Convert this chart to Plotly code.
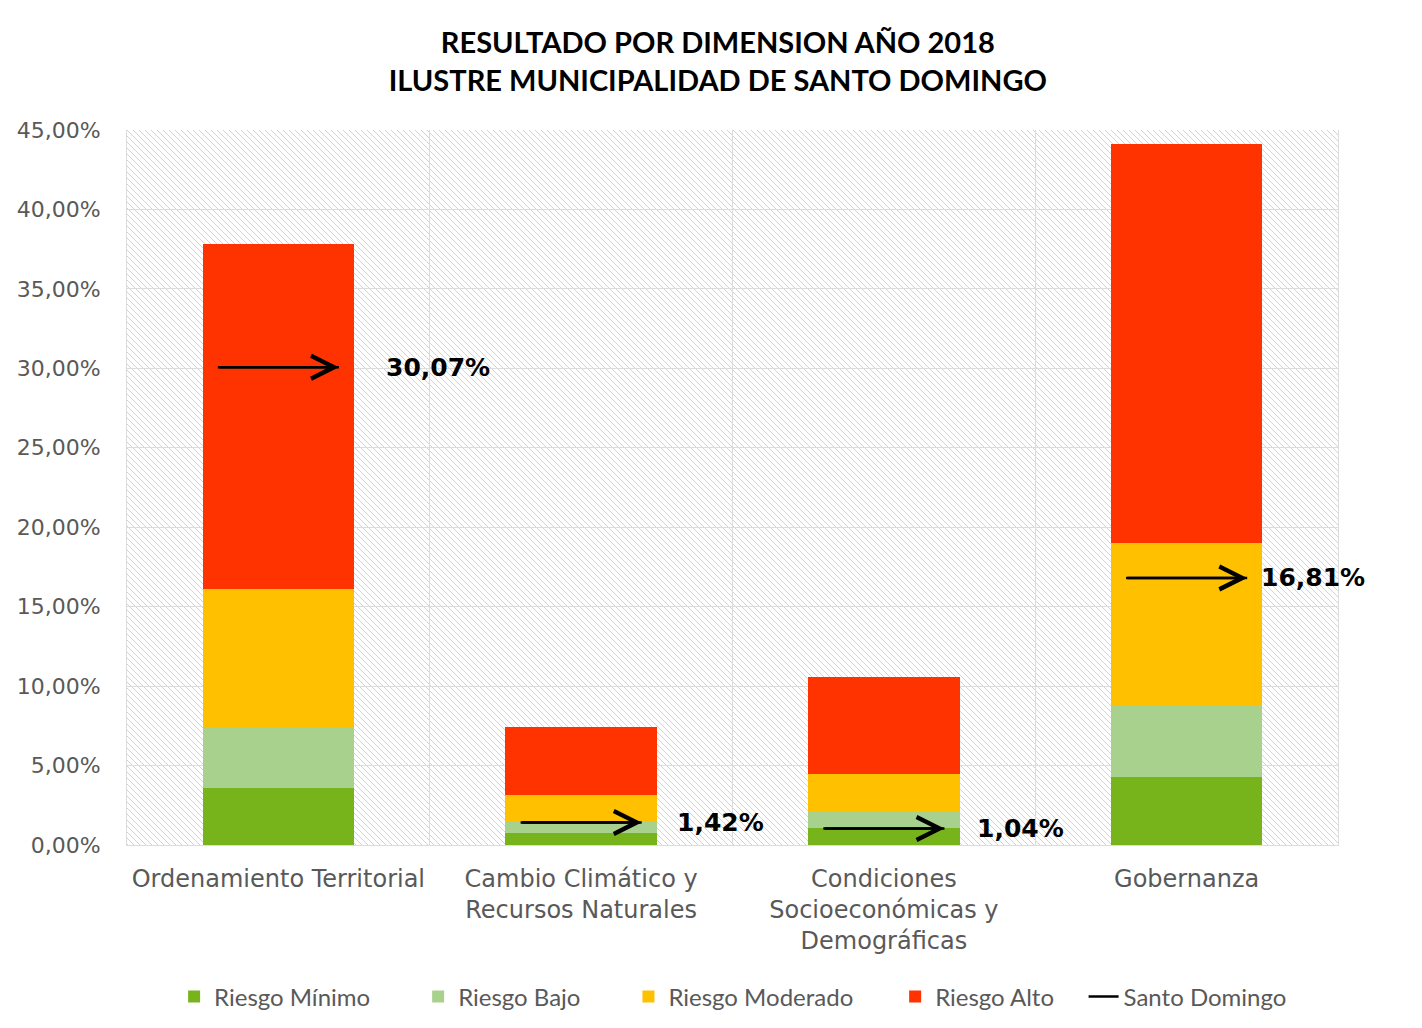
import plotly.graph_objects as go
import base64

# ---------------- data ----------------
categories = [
    "Ordenamiento Territorial",
    "Cambio Climático y<br>Recursos Naturales",
    "Condiciones<br>Socioeconómicas y<br>Demográficas",
    "Gobernanza",
]
riesgo_minimo = [3.60, 0.75, 1.10, 4.30]
riesgo_bajo = [3.80, 0.70, 1.00, 4.45]
riesgo_moderado = [8.70, 1.70, 2.40, 10.25]
riesgo_alto = [21.70, 4.30, 6.10, 25.10]
santo_domingo = [30.07, 1.42, 1.04, 16.81]
santo_domingo_labels = ["30,07%", "1,42%", "1,04%", "16,81%"]
y_tick_values = [0, 5, 10, 15, 20, 25, 30, 35, 40, 45]
y_tick_labels = ["0,00%", "5,00%", "10,00%", "15,00%", "20,00%",
                 "25,00%", "30,00%", "35,00%", "40,00%", "45,00%"]
series_names = ["Riesgo Mínimo", "Riesgo Bajo", "Riesgo Moderado", "Riesgo Alto", "Santo Domingo"]

# ---------------- style ----------------
colors = ["#77B41C", "#A9D18E", "#FFC000", "#FF3300"]
legend_pad = [7, 7, 6, 4, 0]          # extra spacing (nbsp) after legend entries
arrow_half = 0.2
label_dx = [0.35, 0.31, 0.30, 0.24]
grid_color = "#DCDCDC"

x_pos = list(range(len(categories)))
pad = lambda s, n: s + "\u00a0" * n

fig = go.Figure()
for name, vals, col, p in zip(series_names[:4],
                              [riesgo_minimo, riesgo_bajo, riesgo_moderado, riesgo_alto],
                              colors, legend_pad[:4]):
    fig.add_trace(go.Bar(x=x_pos, y=vals, name=pad(name, p), width=0.5,
                         marker=dict(color=col, line=dict(width=0))))

# Santo Domingo arrow shafts (legend entry)
sx, sy = [], []
for i, v in zip(x_pos, santo_domingo):
    sx += [i - arrow_half, i + arrow_half, None]
    sy += [v, v, None]
fig.add_trace(go.Scatter(x=sx, y=sy, mode="lines", name=series_names[4],
                         line=dict(color="black", width=2.5), hoverinfo="skip"))

annotations = []
for i, v, lab, dx in zip(x_pos, santo_domingo, santo_domingo_labels, label_dx):
    annotations.append(dict(x=i + arrow_half, y=v, ax=i - arrow_half, ay=v,
                            xref="x", yref="y", axref="x", ayref="y",
                            text="", showarrow=True, arrowhead=5, arrowsize=1.8,
                            arrowwidth=2.5, arrowcolor="black", standoff=0))
    annotations.append(dict(x=i + dx, y=v, xref="x", yref="y", text=lab,
                            showarrow=False, xanchor="left", yanchor="middle",
                            font=dict(family="DejaVu Sans", size=25, color="black",
                                      weight="bold")))

# hatch background
svg = (
    '<svg xmlns="http://www.w3.org/2000/svg" width="1211" height="715">'
    '<defs><pattern id="h" width="6" height="6" patternUnits="userSpaceOnUse">'
    '<path d="M0,0 L6,6 M-1,5 L1,7 M5,-1 L7,1" stroke="#D2D2D2" stroke-width="1"/>'
    '</pattern></defs><rect width="1211" height="715" fill="white"/>'
    '<rect width="1211" height="715" fill="url(#h)"/></svg>'
)
img_src = "data:image/svg+xml;base64," + base64.b64encode(svg.encode()).decode()

fig.update_layout(
    width=1414, height=1020,
    margin=dict(l=119, r=84, t=122, b=183, autoexpand=False),
    paper_bgcolor="white", plot_bgcolor="rgba(0,0,0,0)",
    barmode="stack",
    title=dict(text="RESULTADO POR DIMENSION AÑO 2018<br>ILUSTRE MUNICIPALIDAD DE SANTO DOMINGO",
               x=0.502, xanchor="center", y=0.956, yanchor="middle",
               font=dict(family="Lato", size=29, color="black", weight="bold")),
    images=[dict(source=img_src, xref="paper", yref="paper", x=0, y=1,
                 sizex=1, sizey=1, sizing="stretch", layer="below",
                 xanchor="left", yanchor="top")],
    legend=dict(orientation="h", x=0.5005, xanchor="center", y=-0.2126, yanchor="middle",
                font=dict(family="Lato", size=24, color="#595959"),
                traceorder="normal", itemwidth=30),
    annotations=annotations,
    showlegend=True,
)
fig.update_xaxes(range=[-0.5, 3.5], tickmode="array", tickvals=x_pos, ticktext=categories,
                 showgrid=False, tickfont=dict(family="DejaVu Sans", size=24, color="#595959"),
                 ticks="", ticklabelstandoff=12, automargin=False,
                 showline=True, linecolor=grid_color, linewidth=1, zeroline=False,
                 minor=dict(tickmode="array", tickvals=[0.5, 1.5, 2.5], showgrid=True,
                            gridcolor=grid_color, gridwidth=1, ticks=""))
fig.update_yaxes(range=[0, 45], tickmode="array", tickvals=y_tick_values, ticktext=y_tick_labels,
                 showgrid=True, gridcolor=grid_color, gridwidth=1,
                 tickfont=dict(family="DejaVu Sans", size=22, color="#595959"),
                 ticks="", ticklabelstandoff=21, zeroline=False, automargin=False,
                 showline=True, linecolor=grid_color, mirror=True)

fig.write_html("out.html")
